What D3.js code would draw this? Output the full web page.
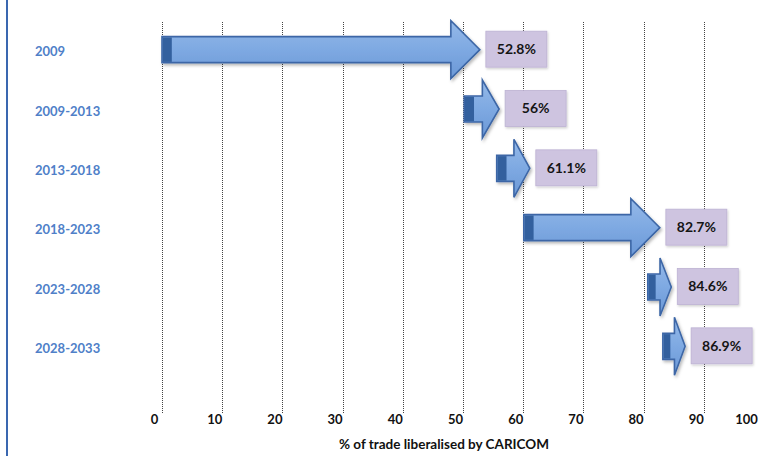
<!DOCTYPE html>
<html>
<head>
<meta charset="utf-8">
<script src="https://cdn.jsdelivr.net/npm/d3@7"></script>
<style>
  html, body { margin: 0; padding: 0; background: #fff; }
  svg { display: block; font-family: Lato, "Open Sans", sans-serif; }
</style>
</head>
<body>
<svg id="chart" width="761" height="456"></svg>
<script>
// Phases of CARICOM trade liberalisation
const periods = ["2009", "2009-2013", "2013-2018", "2018-2023", "2023-2028", "2028-2033"];
// Cumulative share of trade liberalised at the end of each phase (%)
const liberalised = [52.8, 56, 61.1, 82.7, 84.6, 86.9];
// Where each phase's arrow begins (%)
const arrowStart = [0, 50.2, 55.6, 60.1, 80.7, 83.2];
const tickValues = [0, 10, 20, 30, 40, 50, 60, 70, 80, 90, 100];
const axisTitle = "% of trade liberalised by CARICOM";

const svg = d3.select("#chart");
const W = 761, H = 456;

const x = d3.scaleLinear().domain([0, 100]).range([162, 764]);
const y = d3.scaleBand().domain(periods).range([22, 378]);

const defs = svg.append("defs");
const shaftGrad = defs.append("linearGradient")
  .attr("id", "shaft").attr("x1", 0).attr("y1", 0).attr("x2", 0).attr("y2", 1);
shaftGrad.append("stop").attr("offset", "0%").attr("stop-color", "#95b9e8");
shaftGrad.append("stop").attr("offset", "50%").attr("stop-color", "#7ea9e2");
shaftGrad.append("stop").attr("offset", "100%").attr("stop-color", "#6b98d6");

const shadow = defs.append("filter").attr("id", "shadow")
  .attr("x", "-20%").attr("y", "-20%").attr("width", "150%").attr("height", "150%");
shadow.append("feDropShadow").attr("dx", 1.5).attr("dy", 2).attr("stdDeviation", 1.6)
  .attr("flood-color", "#000").attr("flood-opacity", 0.28);

const boxShadow = defs.append("filter").attr("id", "boxShadow")
  .attr("x", "-20%").attr("y", "-20%").attr("width", "140%").attr("height", "150%");
boxShadow.append("feDropShadow").attr("dx", 1).attr("dy", 1.5).attr("stdDeviation", 1.2)
  .attr("flood-color", "#000").attr("flood-opacity", 0.18);

// left frame line
svg.append("line")
  .attr("x1", 7).attr("x2", 7).attr("y1", 0).attr("y2", H)
  .attr("stroke", "#3a67b0").attr("stroke-width", 2);

// vertical dotted gridlines
svg.append("g").selectAll("line")
  .data(tickValues)
  .join("line")
  .attr("x1", d => Math.round(x(d)) + 0.5)
  .attr("x2", d => Math.round(x(d)) + 0.5)
  .attr("y1", 22).attr("y2", 413)
  .attr("stroke", "#444")
  .attr("stroke-width", 1)
  .attr("stroke-dasharray", "1,1");

// x axis tick labels
const axis = d3.axisBottom(x).tickValues(tickValues).tickSize(0).tickPadding(0);
const gAxis = svg.append("g").attr("transform", "translate(0,415)").call(axis);
gAxis.select(".domain").remove();
gAxis.selectAll("text")
  .attr("dx", d => d === 100 ? -18 : -8)
  .attr("font-family", "Lato, sans-serif")
  .attr("font-size", 13)
  .attr("font-weight", "bold")
  .attr("fill", "#111");

svg.append("text")
  .attr("x", 444).attr("y", 449)
  .attr("text-anchor", "middle")
  .attr("font-size", 13.5)
  .attr("font-weight", "bold")
  .attr("fill", "#111")
  .text(axisTitle);

// category labels
svg.append("g").selectAll("text")
  .data(periods)
  .join("text")
  .attr("x", 35)
  .attr("y", d => y(d) + y.bandwidth() / 2)
  .attr("dy", "0.35em")
  .attr("font-size", 13)
  .attr("font-weight", "bold")
  .attr("fill", "#4f80c8")
  .text(d => d);

// block arrows
const rows = periods.map((p, i) => ({
  period: p,
  start: arrowStart[i],
  value: liberalised[i]
}));

function arrowPath(d) {
  const x0 = x(d.start), x1 = x(d.value);
  const cy = y(d.period) + y.bandwidth() / 2 - 2;
  const sh = 13, hh = 29;
  const hl = Math.min(29, 0.48 * (x1 - x0));
  const xh = x1 - hl;
  return `M${x0},${cy - sh}L${xh},${cy - sh}L${xh},${cy - hh}L${x1},${cy}` +
         `L${xh},${cy + hh}L${xh},${cy + sh}L${x0},${cy + sh}Z`;
}

const arrows = svg.append("g").selectAll("g")
  .data(rows)
  .join("g");

arrows.append("path")
  .attr("d", arrowPath)
  .attr("fill", "url(#shaft)")
  .attr("stroke", "#3c66a6")
  .attr("stroke-width", 1.6)
  .attr("stroke-linejoin", "miter")
  .attr("filter", "url(#shadow)");

// darker end cap at the tail of each arrow
arrows.append("rect")
  .attr("x", d => x(d.start) + 0.8)
  .attr("y", d => y(d.period) + y.bandwidth() / 2 - 2 - 12.2)
  .attr("width", d => Math.min(9, 0.3 * (x(d.value) - x(d.start))))
  .attr("height", 24.4)
  .attr("fill", "#33609e");

// value boxes
const labels = svg.append("g").selectAll("g")
  .data(rows)
  .join("g")
  .attr("transform", d => `translate(${x(d.value) + 6},${y(d.period) + y.bandwidth() / 2 - 2.5})`);

labels.append("rect")
  .attr("x", 0).attr("y", -18)
  .attr("width", 61).attr("height", 36)
  .attr("fill", "#cec4e0")
  .attr("stroke", "#bdb2d3")
  .attr("stroke-width", 0.8)
  .attr("filter", "url(#boxShadow)");

labels.append("text")
  .attr("x", 30.5).attr("y", 0)
  .attr("dy", "0.35em")
  .attr("text-anchor", "middle")
  .attr("font-size", 14)
  .attr("font-weight", "bold")
  .attr("fill", "#151515")
  .text(d => d.value + "%");
</script>
</body>
</html>
